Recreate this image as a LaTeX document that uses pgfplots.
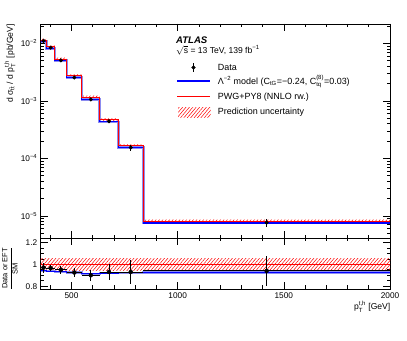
\documentclass[border=0pt]{standalone}
\usepackage{fontspec}
\setmainfont{Liberation Sans}
\usepackage{amsmath}
\usepackage{pgfplots}
\pgfplotsset{compat=1.18}
\usetikzlibrary{patterns.meta}
\definecolor{RootBlue}{HTML}{0000FF}
\definecolor{RootRed}{HTML}{FF0000}
\definecolor{Halo}{HTML}{8C8CF0}

\pgfplotsset{
  rootframe/.style={
    scale only axis, width=349.3bp, anchor=south west,
    xmin=355, xmax=2000,
    tick align=inside, xtick pos=both, ytick pos=both,
    xtick={500,1000,1500,2000},
    minor xtick={400,500,...,2000},
    axis line style={line width=0.8bp},
    major tick style={black,line width=0.6bp},
    minor tick style={black,line width=0.6bp},
    major tick length=7bp, minor tick length=3.5bp,
    tick label style={font=\fontsize{8.3}{10}\selectfont},
    /pgf/number format/assume math mode=true,
    clip=true,
  },
  hatchred/.style={draw=none, pattern={Lines[angle=50,distance=2.6bp,line width=0.5bp]}, pattern color=RootRed},
}

\begin{document}
\begin{tikzpicture}
\useasboundingbox (0,0) rectangle (407bp,341bp);

% ---------------- main panel
\begin{axis}[rootframe,
  at={(40.7bp,103bp)}, height=214bp,
  ymode=log, ymin=4.11e-6, ymax=2.17e-2,
  ytick={1e-5,1e-4,1e-3,1e-2},
  yticklabels={10\textsuperscript{−5},10\textsuperscript{−4},10\textsuperscript{−3},10\textsuperscript{−2}},
  minor ytick={5e-6,6e-6,7e-6,8e-6,9e-6,2e-5,3e-5,4e-5,5e-5,6e-5,7e-5,8e-5,9e-5,
               2e-4,3e-4,4e-4,5e-4,6e-4,7e-4,8e-4,9e-4,2e-3,3e-3,4e-3,5e-3,6e-3,7e-3,8e-3,9e-3,2e-2},
  xticklabels=\empty,
]
% prediction uncertainty (SM)
\addplot[hatchred] coordinates {
 (355,1.075e-2) (382,1.075e-2) (382,8.22e-3) (422,8.22e-3) (422,5.03e-3) (478,5.03e-3)
 (478,2.574e-3) (549,2.574e-3) (549,1.094e-3) (633,1.094e-3) (633,4.42e-4) (720,4.42e-4)
 (720,1.565e-4) (838,1.565e-4) (838,7.64e-6) (2000,7.64e-6)
 (2000,8.56e-6) (838,8.56e-6) (838,1.755e-4) (720,1.755e-4) (720,4.96e-4) (633,4.96e-4)
 (633,1.226e-3) (549,1.226e-3) (549,2.886e-3) (478,2.886e-3) (478,5.63e-3) (422,5.63e-3)
 (422,9.22e-3) (382,9.22e-3) (382,1.205e-2) (355,1.205e-2)} -- cycle;
% EFT model
\addplot[Halo, line width=2.6bp, const plot] coordinates {
 (355,1.072e-2) (382,8.17e-3) (422,4.97e-3) (478,2.525e-3) (549,1.061e-3)
 (633,4.31e-4) (720,1.53e-4) (838,7.49e-6) (2000,7.49e-6)};
\addplot[RootBlue, line width=1.1bp, const plot] coordinates {
 (355,1.072e-2) (382,8.17e-3) (422,4.97e-3) (478,2.525e-3) (549,1.061e-3)
 (633,4.31e-4) (720,1.53e-4) (838,7.49e-6) (2000,7.49e-6)};
% SM prediction
\addplot[RootRed, line width=1bp, const plot] coordinates {
 (355,1.14e-2) (382,8.72e-3) (422,5.33e-3) (478,2.73e-3) (549,1.16e-3)
 (633,4.69e-4) (720,1.66e-4) (838,8.1e-6) (2000,8.1e-6)};
% data
\addplot[black, only marks, mark=*, mark size=1.8bp,
  error bars/.cd, y dir=both, y explicit, error mark=none,
  error bar style={line width=0.9bp}] coordinates {
 (368.5,1.106e-2) +- (0,5.1e-4)
 (402,8.41e-3) +- (0,2.6e-4)
 (450,5.06e-3) +- (0,1.9e-4)
 (513.5,2.54e-3) +- (0,1.1e-4)
 (591,1.056e-3) +- (0,5.8e-5)
 (676.5,4.41e-4) +- (0,3.1e-5)
 (779,1.54e-4) +- (0,1.8e-5)
 (1419,7.6e-6) +- (0,1.1e-6)};
\end{axis}

% ---------------- legend (own hidden axis, units = bp)
\begin{axis}[scale only axis, hide axis, anchor=south west,
  at={(176bp,223bp)}, width=130bp, height=58bp,
  xmin=0, xmax=130, ymin=0, ymax=58, clip=false]
\addplot[black, only marks, mark=*, mark size=1.8bp,
  error bars/.cd, y dir=both, y explicit, error mark=none,
  error bar style={line width=0.9bp}] coordinates {(17.5,50.5) +- (0,4.2)};
\addplot[RootBlue, line width=1.1bp] coordinates {(1.3,37) (34,37)};
\addplot[RootRed, line width=1bp] coordinates {(1.3,21.3) (34,21.3)};
\addplot[hatchred] coordinates {(2,0.7) (34.7,0.7) (34.7,10.7) (2,10.7)} -- cycle;
\begin{scope}[every node/.style={anchor=west, inner sep=0pt, font=\fontsize{9}{10}\selectfont}]
\node at (axis cs:41.7,50.5) {Data};
\node at (axis cs:41.7,36.5) {Λ\textsuperscript{−2} model (C$_{\text{tG}}$=−0.24, C$^{\text{(8)}}_{\text{tq}}$=0.03)};
\node at (axis cs:41.7,21.3) {PWG+PY8 (NNLO rw.)};
\node at (axis cs:41.7,6.3) {Prediction uncertainty};
\end{scope}
\end{axis}

% ---------------- ratio panel
\begin{axis}[rootframe,
  at={(40.7bp,52bp)}, height=51bp,
  ymin=0.774, ymax=1.241,
  ytick={0.8,1,1.2}, yticklabels={0.8,1,1.2},
  minor ytick={0.85,0.9,0.95,1.05,1.1,1.15},
  xticklabels={500,1000,1500,2000},
]
\addplot[hatchred] coordinates {(355,0.943) (2000,0.943) (2000,1.057) (355,1.057)} -- cycle;
\addplot[RootRed, line width=1bp] coordinates {(355,1) (2000,1)};
\addplot[Halo, line width=2.2bp, const plot] coordinates {
 (355,0.94) (382,0.937) (422,0.932) (478,0.925) (549,0.915) (633,0.92) (720,0.922) (838,0.925) (2000,0.925)};
\addplot[RootBlue, line width=1.1bp, const plot] coordinates {
 (355,0.94) (382,0.937) (422,0.932) (478,0.925) (549,0.915) (633,0.92) (720,0.922) (838,0.925) (2000,0.925)};
\addplot[black, only marks, mark=none,
  error bars/.cd, x dir=both, x explicit, y dir=both, y explicit, error mark=none,
  error bar style={line width=0.9bp}] coordinates {
 (368.5,0.97) +- (13.5,0.045)
 (402,0.965) +- (20,0.03)
 (450,0.95) +- (28,0.035)
 (513.5,0.925) +- (35.5,0.04)
 (591,0.90) +- (42,0.05)
 (676.5,0.93) +- (43.5,0.07)
 (779,0.93) +- (59,0.11)
 (1419,0.94) +- (581,0.14)};
\end{axis}

% ---------------- texts
\node[anchor=west, inner sep=0pt, font=\fontsize{9.6}{11}\selectfont\bfseries\itshape] at (176bp,301bp) {ATLAS};
\node[anchor=base west, inner sep=0pt, font=\fontsize{8.6}{10}\selectfont] at (176bp,287.5bp)
  {$\sqrt{\text{s}}$ = 13 TeV, 139 fb$^{\text{−1}}$};
\node[rotate=90, anchor=east, inner sep=0pt, font=\fontsize{8.6}{10}\selectfont] at (10bp,317bp)
  {d σ$_{\text{t\={t}}}$ / d p$^{\text{t,h}}_{\text{T}}$ [pb/GeV]};
\node[rotate=90, inner sep=0pt, font=\fontsize{7.5}{9}\selectfont] at (10bp,72.5bp)
  {$\dfrac{\text{Data or EFT}}{\text{SM}}$};
\node[anchor=east, inner sep=0pt, font=\fontsize{8.6}{10}\selectfont] at (390.5bp,34bp)
  {p$^{\text{t,h}}_{\text{T}}$ [GeV]};
\end{tikzpicture}
\end{document}
